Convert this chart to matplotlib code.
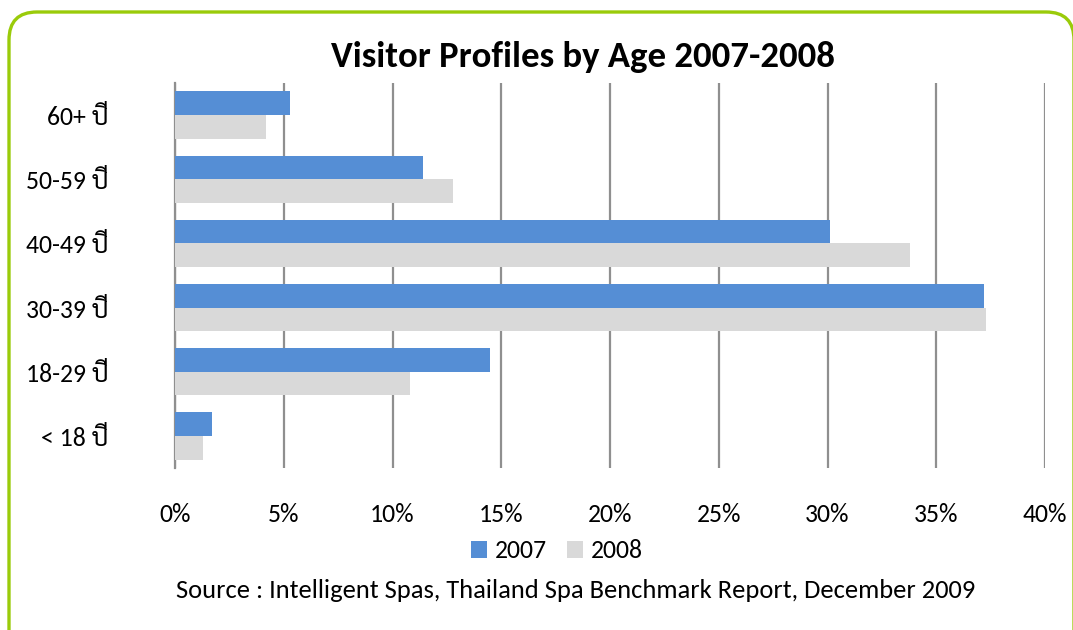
import matplotlib
matplotlib.use("Agg")
import numpy as np
import matplotlib.pyplot as plt
from matplotlib.patches import Patch, FancyBboxPatch
from matplotlib.transforms import IdentityTransform
import matplotlib.ticker as ticker

plt.rcParams["font.family"] = ["Carlito", "Lato", "Sarabun", "Noto Sans Thai Looped", "Noto Sans Thai", "DejaVu Sans"]

# data (bottom to top)
age_groups = ["< 18 ปี", "18-29 ปี", "30-39 ปี", "40-49 ปี", "50-59 ปี", "60+ ปี"]
share_2007 = [1.7, 14.5, 37.2, 30.1, 11.4, 5.3]
share_2008 = [1.3, 10.8, 37.3, 33.8, 12.8, 4.2]
series_names = ["2007", "2008"]

BLUE = "#558ED5"
GREY = "#D9D9D9"
GRID = "#8F8F8F"

fig = plt.figure(figsize=(10.73, 6.30), dpi=100)
ax = fig.add_axes([175 / 1073, 1 - 468 / 630, 870 / 1073, 385 / 630])

y = np.arange(len(age_groups))
h = 0.37
ax.barh(y + h / 2, share_2007, height=h, color=BLUE, zorder=3)
ax.barh(y - h / 2, share_2008, height=h, color=GREY, zorder=3)

ax.set_xlim(0, 40)
ax.set_ylim(-0.5, len(age_groups) - 0.5)
ax.xaxis.set_major_locator(ticker.MultipleLocator(5))
ax.xaxis.set_major_formatter(ticker.FuncFormatter(lambda v, p: f"{v:.0f}%"))
ax.set_yticks(y)
ax.set_yticklabels(age_groups)
ax.grid(axis="x", color=GRID, linewidth=1.6, zorder=0)
for s in ["top", "right", "bottom"]:
    ax.spines[s].set_visible(False)
ax.spines["left"].set_color(GRID)
ax.spines["left"].set_linewidth(1.6)
ax.tick_params(axis="both", length=0, labelsize=18.5)
ax.tick_params(axis="x", pad=25)
ax.tick_params(axis="y", pad=48)

fig.text(583 / 1073, 1 - 57 / 630, "Visitor Profiles by Age 2007-2008",
         ha="center", va="center", fontsize=26.5, fontweight="bold")

handles = [Patch(facecolor=BLUE), Patch(facecolor=GREY)]
fig.legend(handles, series_names, loc="center", bbox_to_anchor=(557 / 1073, 1 - 551 / 630),
           ncol=2, frameon=False, fontsize=18.5, handlelength=0.62, handleheight=0.62,
           handletextpad=0.3, columnspacing=0.8)

fig.text(576 / 1073, 1 - 590 / 630,
         "Source : Intelligent Spas, Thailand Spa Benchmark Report, December 2009",
         ha="center", va="center", fontsize=19.1)

# rounded green frame
frame = FancyBboxPatch((9, -60), 1065, 678, boxstyle="round,pad=0,rounding_size=28",
                       transform=IdentityTransform(), facecolor="none",
                       edgecolor="#9ACB0A", linewidth=2.4, clip_on=False)
fig.patches.append(frame)

fig.savefig("out.png", dpi=100)
